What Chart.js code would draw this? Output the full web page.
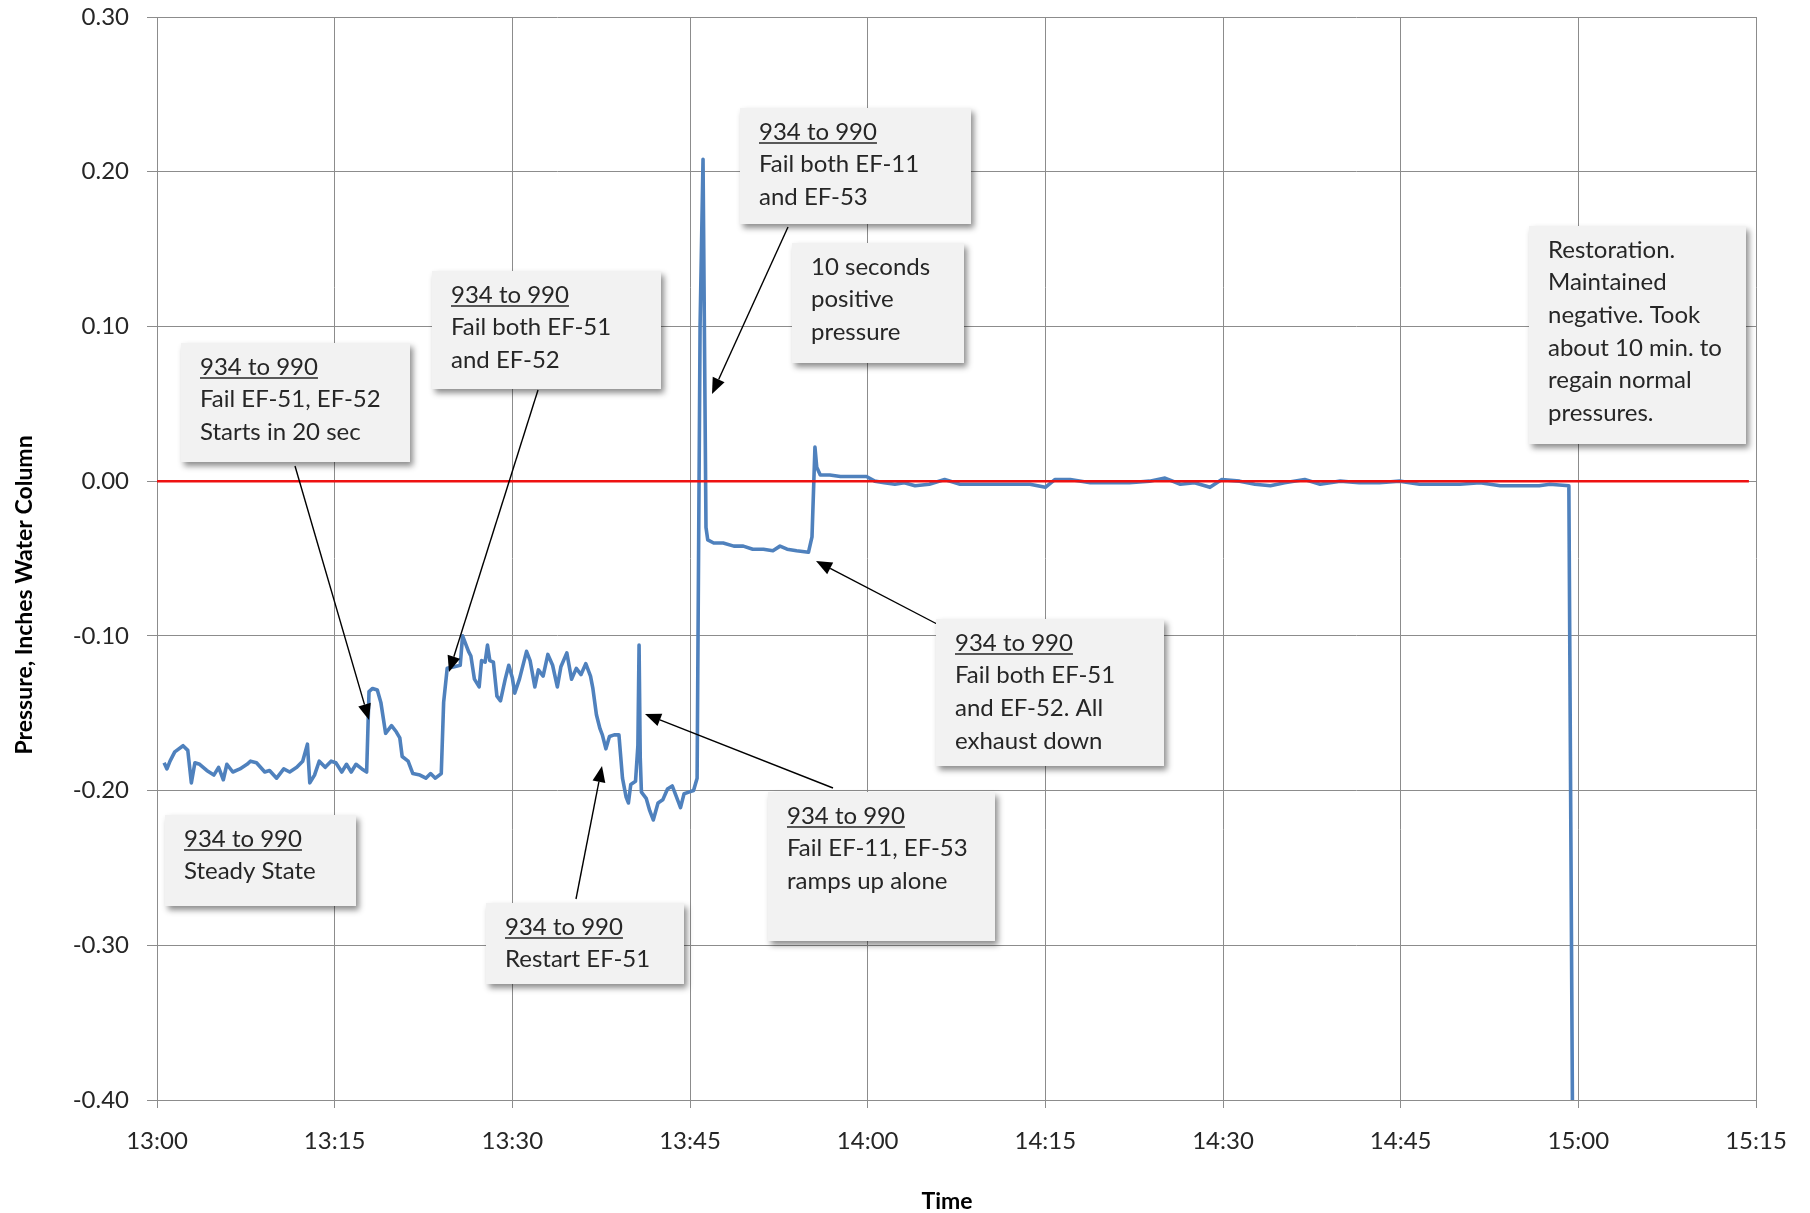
<!DOCTYPE html>
<html><head><meta charset="utf-8">
<script src="https://cdn.jsdelivr.net/npm/chart.js@4.4.1/dist/chart.umd.min.js"></script>
<style>html,body{margin:0;padding:0;background:#fff}canvas{display:block}</style>
</head><body>
<canvas id="c" width="1810" height="1213"></canvas>
<script>
// ---- data (minutes after 13:00, pressure in inches water column) ----
const timeMinutes = [
 0.6,0.84,1.1,1.5,2.2,2.6,2.9,3.2,3.6,4.2,4.8,5.2,5.6,5.9,6.4,7.0,7.6,7.9,8.4,9.1,9.5,10.1,10.7,11.2,11.8,12.3,12.7,12.9,13.3,13.7,
 14.2,14.7,15.1,15.6,16.0,16.4,16.8,17.3,17.7,17.9,18.2,18.6,18.9,19.3,19.8,20.2,20.5,20.7,21.2,21.6,22.2,22.7,23.1,23.5,24.0,24.2,24.5,
 25.1,25.6,25.8,26.3,26.5,26.8,27.2,27.4,27.7,27.9,28.1,28.4,28.7,29.0,29.4,29.7,30.0,30.2,30.6,31.2,31.5,31.9,32.2,32.6,33.0,33.4,33.8,
 34.1,34.6,35.0,35.4,35.8,36.2,36.6,36.8,37.1,37.4,37.6,37.9,38.2,38.6,39.0,39.3,39.6,39.8,40.0,40.4,40.6,40.7,40.8,40.9,41.3,41.6,41.9,
 42.3,42.7,43.1,43.5,43.8,44.2,44.5,44.9,45.3,45.6,45.85,46.1,46.35,46.5,47.0,47.8,48.7,49.5,50.3,51.2,52.0,52.6,53.2,54.0,55.0,55.3,
 55.55,55.7,56.0,56.8,57.7,59.3,59.9,60.6,61.4,62.3,63.1,64.0,65.2,66.5,67.8,69.0,70.3,72.0,73.7,75.0,75.8,77.1,78.8,80.4,82.1,83.8,
 85.1,86.4,87.6,88.9,89.9,91.4,92.7,94.0,95.2,96.9,98.2,99.9,101.5,103.2,104.9,106.6,108.3,110.0,111.7,113.4,115.1,116.7,117.6,119.2,119.5
];
const pressure = [
 -0.182,-0.186,-0.181,-0.175,-0.171,-0.174,-0.195,-0.182,-0.183,-0.187,-0.190,-0.185,-0.193,-0.183,-0.188,-0.186,-0.183,-0.181,-0.182,-0.188,-0.187,-0.192,-0.186,-0.188,-0.185,-0.181,-0.170,-0.195,-0.190,-0.181,
 -0.185,-0.181,-0.182,-0.188,-0.183,-0.188,-0.183,-0.186,-0.188,-0.136,-0.134,-0.135,-0.143,-0.163,-0.158,-0.162,-0.166,-0.178,-0.181,-0.189,-0.190,-0.192,-0.189,-0.192,-0.189,-0.143,-0.121,
 -0.120,-0.119,-0.100,-0.110,-0.113,-0.128,-0.133,-0.116,-0.117,-0.106,-0.116,-0.117,-0.139,-0.142,-0.128,-0.119,-0.127,-0.137,-0.128,-0.110,-0.116,-0.133,-0.122,-0.126,-0.112,-0.119,-0.133,
 -0.120,-0.111,-0.128,-0.121,-0.125,-0.118,-0.126,-0.134,-0.151,-0.160,-0.164,-0.173,-0.165,-0.164,-0.164,-0.192,-0.204,-0.208,-0.196,-0.194,-0.171,-0.106,-0.179,-0.201,-0.205,-0.213,-0.219,
 -0.208,-0.206,-0.199,-0.197,-0.203,-0.211,-0.202,-0.201,-0.200,-0.192,0.100,0.208,-0.030,-0.038,-0.040,-0.040,-0.042,-0.042,-0.044,-0.044,-0.045,-0.042,-0.044,-0.045,-0.046,-0.036,
 0.022,0.009,0.004,0.004,0.003,0.003,0.003,0.000,-0.001,-0.002,-0.001,-0.003,-0.002,0.001,-0.002,-0.002,-0.002,-0.002,-0.002,-0.004,0.001,0.001,-0.001,-0.001,-0.001,0.000,
 0.002,-0.002,-0.001,-0.004,0.001,0.000,-0.002,-0.003,-0.001,0.001,-0.002,0.000,-0.001,-0.001,0.000,-0.002,-0.002,-0.002,-0.001,-0.003,-0.003,-0.003,-0.002,-0.003,-0.400
];
const zeroTimes = [0, 134.4];
const zeroValues = [0, 0];
const xTickValues = [0, 15, 30, 45, 60, 75, 90, 105, 120, 135];
const xTickLabels = ['13:00','13:15','13:30','13:45','14:00','14:15','14:30','14:45','15:00','15:15'];
const yTickValues = [-0.4, -0.3, -0.2, -0.1, 0, 0.1, 0.2, 0.3];
const yTickLabels = ['-0.40','-0.30','-0.20','-0.10','0.00','0.10','0.20','0.30'];
const xTitle = 'Time';
const yTitle = 'Pressure, Inches Water Column';

// ---- callout boxes (pixel layout) and arrows ----
const notes = [
 {box:[181,343,410,462], head:'934 to 990', lines:['Fail EF-51, EF-52','Starts in 20 sec']},
 {box:[432,271,661,389], head:'934 to 990', lines:['Fail both EF-51','and EF-52']},
 {box:[740,108,971,224], head:'934 to 990', lines:['Fail both EF-11','and EF-53']},
 {box:[792,243,964,363], head:null, lines:['10 seconds','positive','pressure']},
 {box:[1529,226,1746,444], head:null, lines:['Restoration.','Maintained','negative. Took','about 10 min. to','regain normal','pressures.']},
 {box:[936,619,1164,766], head:'934 to 990', lines:['Fail both EF-51','and EF-52. All','exhaust down']},
 {box:[768,792,995,941], head:'934 to 990', lines:['Fail EF-11, EF-53','ramps up alone']},
 {box:[165,815,356,906], head:'934 to 990', lines:['Steady State']},
 {box:[486,903,684,984], head:'934 to 990', lines:['Restart EF-51']}
];
const arrows = [
 [295,466,369,720],
 [538,390,449,672],
 [788,227,712,394],
 [937,624,816,561],
 [833,788,645,714],
 [576,899,602,766]
];

const FONT = 'Lato, "Noto Sans", sans-serif';
const GRID = '#8c8c8c';
const TXT = '#262626';

const calloutPlugin = {
  id:'callouts',
  afterDatasetsDraw(chart){
    const ctx = chart.ctx;
    ctx.save();
    // arrows
    ctx.strokeStyle = '#000'; ctx.fillStyle = '#000'; ctx.lineWidth = 1.4;
    arrows.forEach(([x0,y0,x1,y1])=>{
      const a = Math.atan2(y1-y0, x1-x0), L = 16, W = 6.5;
      const bx = x1 - L*Math.cos(a), by = y1 - L*Math.sin(a);
      ctx.beginPath(); ctx.moveTo(x0,y0); ctx.lineTo(bx,by); ctx.stroke();
      ctx.beginPath(); ctx.moveTo(x1,y1);
      ctx.lineTo(bx + W*Math.sin(a), by - W*Math.cos(a));
      ctx.lineTo(bx - W*Math.sin(a), by + W*Math.cos(a));
      ctx.closePath(); ctx.fill();
    });
    // boxes
    notes.forEach(n=>{
      const [l,t,r,b] = n.box;
      ctx.save();
      ctx.shadowColor = 'rgba(0,0,0,0.45)'; ctx.shadowBlur = 6; ctx.shadowOffsetX = 3; ctx.shadowOffsetY = 4;
      ctx.fillStyle = '#f2f2f2';
      ctx.fillRect(l,t,r-l,b-t);
      ctx.restore();
      ctx.fillStyle = TXT; ctx.strokeStyle = TXT;
      ctx.font = '24px ' + FONT; ctx.textBaseline = 'middle'; ctx.textAlign = 'left';
      const all = n.head ? [n.head].concat(n.lines) : n.lines;
      all.forEach((s,i)=>{
        const y = t + 24 + i*32.6, x = l + 19;
        ctx.fillText(s, x, y);
        if(i===0 && n.head){
          const w = ctx.measureText(s).width;
          ctx.lineWidth = 1.6;
          ctx.beginPath(); ctx.moveTo(x, y+11); ctx.lineTo(x+w, y+11); ctx.stroke();
        }
      });
    });
    // axis titles
    ctx.fillStyle = '#000';
    ctx.font = 'bold 23px ' + FONT; ctx.textAlign = 'center'; ctx.textBaseline = 'middle';
    ctx.fillText(xTitle, 947, 1202);
    ctx.translate(25, 595); ctx.rotate(-Math.PI/2);
    ctx.fillText(yTitle, 0, 0);
    ctx.restore();
  }
};

new Chart(document.getElementById('c').getContext('2d'), {
  type:'line',
  data:{datasets:[
    {label:'Zero', data: zeroTimes.map((t,i)=>({x:t,y:zeroValues[i]})), borderColor:'#ee1111', borderWidth:2.5, pointRadius:0, tension:0},
    {label:'Pressure', data: timeMinutes.map((t,i)=>({x:t,y:pressure[i]})), borderColor:'#4f81bd', borderWidth:3.6, pointRadius:0, tension:0, borderJoinStyle:'round'}
  ]},
  options:{
    responsive:false, animation:false, devicePixelRatio:1,
    layout:{padding:{top:17,right:54,bottom:0,left:0}},
    plugins:{legend:{display:false}, tooltip:{enabled:false}},
    scales:{
      x:{type:'linear', min:0, max:135,
        afterBuildTicks:s=>{s.ticks = xTickValues.map(v=>({value:v}));},
        afterFit:s=>{s.height = 113; s.paddingLeft = 0; s.paddingRight = 0;},
        ticks:{callback:(v,i)=>xTickLabels[i], font:{family:FONT,size:24}, color:TXT, padding:19, maxRotation:0, autoSkip:false},
        grid:{color:GRID, lineWidth:1, tickLength:8}, border:{color:GRID, width:1}},
      y:{type:'linear', min:-0.4, max:0.3,
        afterBuildTicks:s=>{s.ticks = yTickValues.map(v=>({value:v}));},
        afterFit:s=>{s.width = 157; s.paddingTop = 0; s.paddingBottom = 0;},
        ticks:{callback:(v,i)=>yTickLabels[i], font:{family:FONT,size:24}, color:TXT, padding:18, autoSkip:false},
        grid:{color:GRID, lineWidth:1, tickLength:10}, border:{color:GRID, width:1}}
    }
  },
  plugins:[calloutPlugin]
});
</script>
</body></html>
